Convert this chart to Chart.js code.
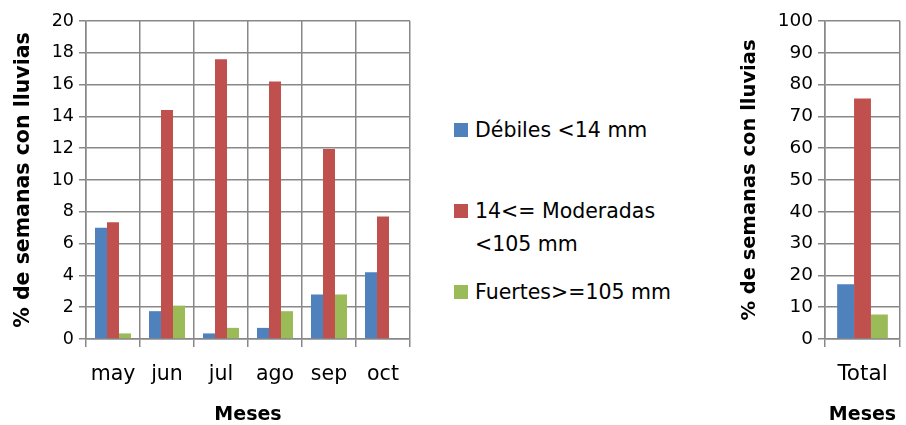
<!DOCTYPE html>
<html lang="es">
<head>
    <meta charset="UTF-8">
    <title>Semanas con lluvias por mes</title>
    <script src="https://cdn.jsdelivr.net/npm/chart.js"></script>
    <style>
        body {
            margin: 0;
            padding: 0;
            background: #fff;
            width: 906px;
            height: 425px;
            overflow: hidden;
            position: relative;
            font-family: "DejaVu Sans", sans-serif;
        }
        .box {
            position: absolute;
            top: 0;
        }
        #legend {
            position: absolute;
            left: 454px;
            top: 0;
            width: 225px;
            font-size: 20.5px;
            line-height: 33px;
            color: #000;
        }
        .item {
            position: absolute;
            left: 0;
            width: 225px;
        }
        .item .sw {
            position: absolute;
            left: 0;
            top: 9px;
            width: 14px;
            height: 14px;
        }
        .item .tx {
            margin-left: 21px;
            width: 204px;
        }
    </style>
</head>
<body>
    <div class="box" style="left:0;"><canvas id="monthChart" width="420" height="430"></canvas></div>
    <div id="legend"></div>
    <div class="box" style="left:700px;"><canvas id="totalChart" width="206" height="430"></canvas></div>

    <script>
        // data
        const months = ['may', 'jun', 'jul', 'ago', 'sep', 'oct'];
        const debiles = [7.0, 1.75, 0.35, 0.7, 2.8, 4.2];
        const moderadas = [7.35, 14.4, 17.6, 16.2, 11.95, 7.7];
        const fuertes = [0.35, 2.1, 0.7, 1.75, 2.8, 0];

        const totalLabels = ['Total'];
        const totalDebiles = [17.2];
        const totalModeradas = [75.6];
        const totalFuertes = [7.7];

        const seriesNames = ['Débiles <14 mm', '14<= Moderadas <105 mm', 'Fuertes>=105 mm'];
        const seriesColors = ['#4F81BD', '#C0504D', '#9BBB59'];
        const legendTops = [114, 195, 276];

        const yTitle = '% de semanas con lluvias';
        const xTitle = 'Meses';

        Chart.defaults.font.family = '"DejaVu Sans", sans-serif';
        Chart.defaults.color = '#000';

        const gridColor = '#888888';

        function makeDatasets(values, catPct) {
            return values.map((v, i) => ({
                label: seriesNames[i],
                data: v,
                backgroundColor: seriesColors[i],
                borderWidth: 0,
                barPercentage: 1.0,
                categoryPercentage: catPct
            }));
        }

        // f = font sizes for this panel: x ticks, y ticks, y title
        function makeOptions(yMax, yStep, yWidth, titleOffset, padRight, f) {
            return {
                responsive: false,
                animation: false,
                layout: { padding: { top: 21, right: padRight, left: 0, bottom: 0 } },
                plugins: { legend: { display: false }, tooltip: { enabled: false } },
                scales: {
                    x: {
                        grid: { color: gridColor, lineWidth: 1.5, tickLength: 8, offset: true },
                        border: { color: gridColor, width: 1.5 },
                        ticks: { font: { size: f[0] }, padding: 15, maxRotation: 0 },
                        title: { display: true, text: xTitle, font: { size: 19, weight: 'bold' }, padding: { top: 0, bottom: 3.5 } },
                        afterFit: scale => { scale.height = 91; }
                    },
                    y: {
                        min: 0,
                        max: yMax,
                        grid: { color: gridColor, lineWidth: 1.5, tickLength: 7 },
                        border: { color: gridColor, width: 1.5 },
                        ticks: { stepSize: yStep, font: { size: f[1] }, padding: 5 },
                        title: { display: true, text: yTitle, font: { size: f[2], weight: 'bold' }, padding: { top: titleOffset, bottom: 0 } },
                        afterFit: scale => { scale.width = yWidth; }
                    }
                }
            };
        }

        new Chart(document.getElementById('monthChart'), {
            type: 'bar',
            data: { labels: months, datasets: makeDatasets([debiles, moderadas, fuertes], 0.667) },
            options: makeOptions(20, 2, 86, 11, 10, [20.5, 17.5, 20.5])
        });

        new Chart(document.getElementById('totalChart'), {
            type: 'bar',
            data: { labels: totalLabels, datasets: makeDatasets([totalDebiles, totalModeradas, totalFuertes], 0.676) },
            options: makeOptions(100, 10, 125, 38, 6, [21.5, 18.5, 19.5])
        });

        // legend between the two charts
        const legend = document.getElementById('legend');
        seriesNames.forEach((name, i) => {
            const item = document.createElement('div');
            item.className = 'item';
            item.style.top = legendTops[i] + 'px';
            const sw = document.createElement('span');
            sw.className = 'sw';
            sw.style.background = seriesColors[i];
            const tx = document.createElement('div');
            tx.className = 'tx';
            tx.textContent = name;
            item.appendChild(sw);
            item.appendChild(tx);
            legend.appendChild(item);
        });
    </script>
</body>
</html>
